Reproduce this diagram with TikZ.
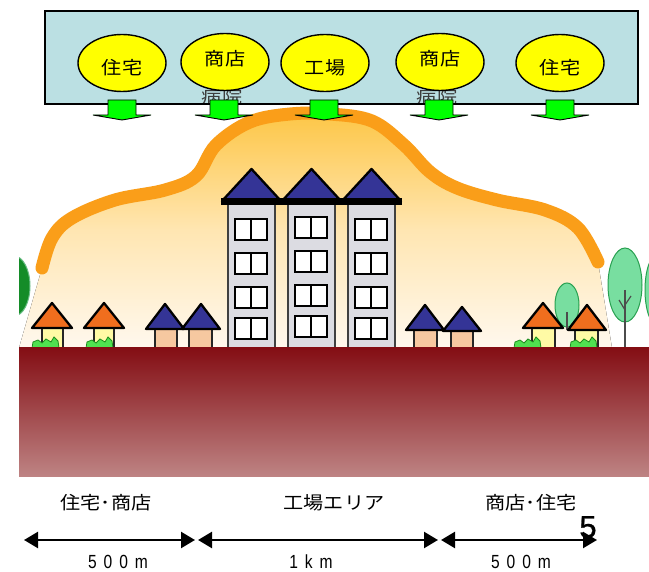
\documentclass[tikz,border=0pt]{standalone}
\usepackage{fontspec}
\newfontfamily\jp[FakeStretch=1.12]{Noto Sans CJK JP}
\newfontfamily\numf[FakeBold=0.8]{Liberation Sans}
\newfontfamily\distf[FakeStretch=0.82]{Liberation Sans}
\usetikzlibrary{arrows.meta,shapes.geometric}

\definecolor{boxblue}{RGB}{187,224,227}
\definecolor{ovalyellow}{RGB}{255,255,0}
\definecolor{arrowgreen}{RGB}{0,255,0}
\definecolor{bandorange}{RGB}{250,158,25}
\definecolor{hazetop}{RGB}{253,198,70}
\definecolor{hazemid}{RGB}{255,230,178}
\definecolor{hazebot}{RGB}{255,248,238}
\definecolor{soiltop}{RGB}{132,14,20}
\definecolor{soilbot}{RGB}{190,132,132}
\definecolor{roofblue}{RGB}{52,52,150}
\definecolor{rooforange}{RGB}{240,110,30}
\definecolor{wallgray}{RGB}{220,220,226}
\definecolor{wallyellow}{RGB}{255,250,165}
\definecolor{wallpeach}{RGB}{246,200,160}
\definecolor{leaf}{RGB}{120,222,160}
\definecolor{leafedge}{RGB}{40,160,80}
\definecolor{darkleaf}{RGB}{20,140,40}
\definecolor{bush}{RGB}{80,225,80}
\definecolor{bushedge}{RGB}{30,140,30}
\definecolor{ghosttext}{RGB}{60,60,60}

\newcommand{\spaced}[4]{#1\hspace{7pt}#2\hspace{7pt}#3\hspace{7pt}#4}
\newcommand{\spacedthree}[3]{#1\hspace{7pt}#2\hspace{7pt}#3}

\tikzset{
  oval/.style={ellipse, draw=black, line width=1.4pt, fill=ovalyellow,
    minimum width=88pt, minimum height=57pt, inner sep=0pt},
  ovaltext/.style={font=\jp\fontsize{18}{20}\selectfont, inner sep=0pt},
  greenarrow/.style={fill=arrowgreen, draw=black, line width=0.9pt, line join=miter},
  towerwall/.style={fill=wallgray, draw=black!75, line width=1.5pt},
  towerwin/.style={fill=white, draw=black, line width=2pt},
  roofline/.style={draw=black, line width=2.3pt, line join=round},
  houseyellow/.style={fill=wallyellow, draw=black!85, line width=1.4pt},
  housepeach/.style={fill=wallpeach, draw=black!85, line width=1.4pt},
  bushstyle/.style={fill=bush, draw=bushedge, line width=0.8pt},
  treestyle/.style={fill=leaf, draw=leafedge, line width=1pt},
  trunk/.style={draw=black!70, line width=1.2pt},
  arealabel/.style={font=\jp\fontsize{18}{20}\selectfont, inner sep=0pt},
  distlabel/.style={font=\distf\fontsize{19}{21}\selectfont, inner sep=0pt},
  span/.style={line width=2.4pt, {Triangle[length=14pt,width=16pt]}-{Triangle[length=14pt,width=16pt]}}
}

\begin{document}
\begin{tikzpicture}[x=1pt,y=-1pt]
\useasboundingbox (0,0) rectangle (649,572);
\fill[white] (0,0) rectangle (649,572);

% warm haze under the orange band
\fill[top color=hazetop, bottom color=hazebot, middle color=hazemid]
  plot[smooth, tension=0.6] coordinates {(42,268) (52,238) (72,218) (115,200) (165,190)
    (196,176) (216,145) (250,122) (290,114) (330,114) (372,121) (404,145) (430,172)
    (457,188) (497,200) (545,210) (578,228) (598,262)}
  -- (612,348) -- (19,348) -- cycle;
\draw[bandorange, line width=13pt, line cap=round]
  plot[smooth, tension=0.6] coordinates {(42,268) (52,238) (72,218) (115,200) (165,190)
    (196,176) (216,145) (250,122) (290,114) (330,114) (372,121) (404,145) (430,172)
    (457,188) (497,200) (545,210) (578,228) (598,262)};

% source panel
\node[draw=black, line width=1.6pt, fill=boxblue, minimum width=593pt, minimum height=93pt,
  inner sep=0pt, anchor=north west] (panel) at (44,10) {};

\begin{scope}
  \clip (44,10) rectangle (637,103);
  \node[font=\jp\fontsize{18}{20}\selectfont, text=ghosttext, inner sep=0pt] (h1) at (222,97) {病院};
  \node[font=\jp\fontsize{18}{20}\selectfont, text=ghosttext, inner sep=0pt] (h2) at (437,97) {病院};
\end{scope}

\node[oval] (o1) at (122,63) {};
\node[oval] (o2) at (225,62) {};
\node[oval] (o3) at (325,63) {};
\node[oval] (o4) at (440,62) {};
\node[oval] (o5) at (560,63) {};
\node[ovaltext] (t1) at (122,68) {住宅};
\node[ovaltext] (t2) at (225,59) {商店};
\node[ovaltext] (t3) at (325,68) {工場};
\node[ovaltext] (t4) at (440,59) {商店};
\node[ovaltext] (t5) at (560,68) {住宅};

% downward emission arrows
\foreach \cx in {122,224,324,439,560}{
  \filldraw[greenarrow] (\cx-14,100) -- (\cx+14,100) -- (\cx+14,115) -- (\cx+29,115)
    -- (\cx,120) -- (\cx-29,115) -- (\cx-14,115) -- cycle;
}

% left tree, cut by the ground edge
\begin{scope}
  \clip (19,200) rectangle (60,348);
  \filldraw[fill=darkleaf, draw=leafedge!70, line width=1pt] (14,286) ellipse (16pt and 30pt);
\end{scope}

% trees on the right
\filldraw[treestyle] (567,305) ellipse (12pt and 22pt);
\draw[trunk] (567,312) -- (567,330);
\filldraw[treestyle] (657,290) ellipse (12pt and 35pt);
\filldraw[treestyle] (625,285) ellipse (17pt and 37pt);
\draw[trunk] (625,290) -- (625,348);
\draw[trunk] (625,310) -- (619,300);
\draw[trunk] (625,305) -- (631,296);

% factory towers
\foreach \bx/\dy in {228/0,288/-2,348/0}{
  \filldraw[towerwall] (\bx,203) rectangle (\bx+47,349);
  \filldraw[fill=roofblue, roofline] (\bx+23.5,169) -- (\bx+53,201) -- (\bx-6,201) -- cycle;
  \fill[black] (\bx-7,198) rectangle (\bx+54,205);
  \foreach \wy in {219,253,287,318}{
    \filldraw[towerwin] (\bx+7,\wy+\dy) rectangle (\bx+39,\wy+\dy+21);
    \draw[line width=1.2pt] (\bx+23,\wy+\dy) -- (\bx+23,\wy+\dy+21);
  }
}

% small houses: apex x, apex y, roof half width, roof base y, body left, body right, bottom
\foreach \ax/\ay/\hw/\by/\bl/\br/\bb in {52/303/20/328/42/63/348, 104/303/20/328/94/114/348,
    543/303/20/328/532/555/348, 587/305/19/330/575/598/348}{
  \filldraw[houseyellow] (\bl,\by) rectangle (\br,\bb);
  \filldraw[fill=rooforange, roofline] (\ax,\ay) -- (\ax+\hw,\by) -- (\ax-\hw,\by) -- cycle;
}
\foreach \ax/\ay/\hw/\by/\bl/\br/\bb in {165/304/19/329/155/177/348, 201/304/19/329/189/212/348,
    425/305/19/330/414/437/348, 462/307/19/331/451/473/351}{
  \filldraw[housepeach] (\bl,\by) rectangle (\br,\bb);
  \filldraw[fill=roofblue, roofline] (\ax,\ay) -- (\ax+\hw,\by) -- (\ax-\hw,\by) -- cycle;
}

% shrubs at the doors
\foreach \sx in {32,86,514,570}{
  \filldraw[bushstyle] (\sx,348) -- (\sx+1,342) -- (\sx+6,340) -- (\sx+10,343) -- (\sx+14,339)
    -- (\sx+19,342) -- (\sx+22,337) -- (\sx+26,341) -- (\sx+27,348) -- cycle;
}

% ground
\fill[top color=soiltop, bottom color=soilbot] (19,348) rectangle (649,477);

% area labels and distances
\node[arealabel] (a1) at (106,503) {住宅･商店};
\node[arealabel] (a2) at (334,503) {工場エリア};
\node[arealabel] (a3) at (531,503) {商店･住宅};

\coordinate (d0) at (24,540);
\coordinate (d1) at (195,540);
\coordinate (d2) at (198,540);
\coordinate (d3) at (438,540);
\coordinate (d4) at (441,540);
\coordinate (d5) at (597,540);
\draw[span] (d0) -- (d1);
\draw[span] (d2) -- (d3);
\draw[span] (d4) -- (d5);

\node[distlabel] (m1) at (118,562) {\spaced{5}{0}{0}{m}};
\node[distlabel] (m2) at (311,562) {\spacedthree{1}{k}{m}};
\node[distlabel] (m3) at (521,562) {\spaced{5}{0}{0}{m}};

\node[font=\numf\fontsize{31}{33}\selectfont, inner sep=0pt] (pg) at (588,527) {5};
\end{tikzpicture}
\end{document}
